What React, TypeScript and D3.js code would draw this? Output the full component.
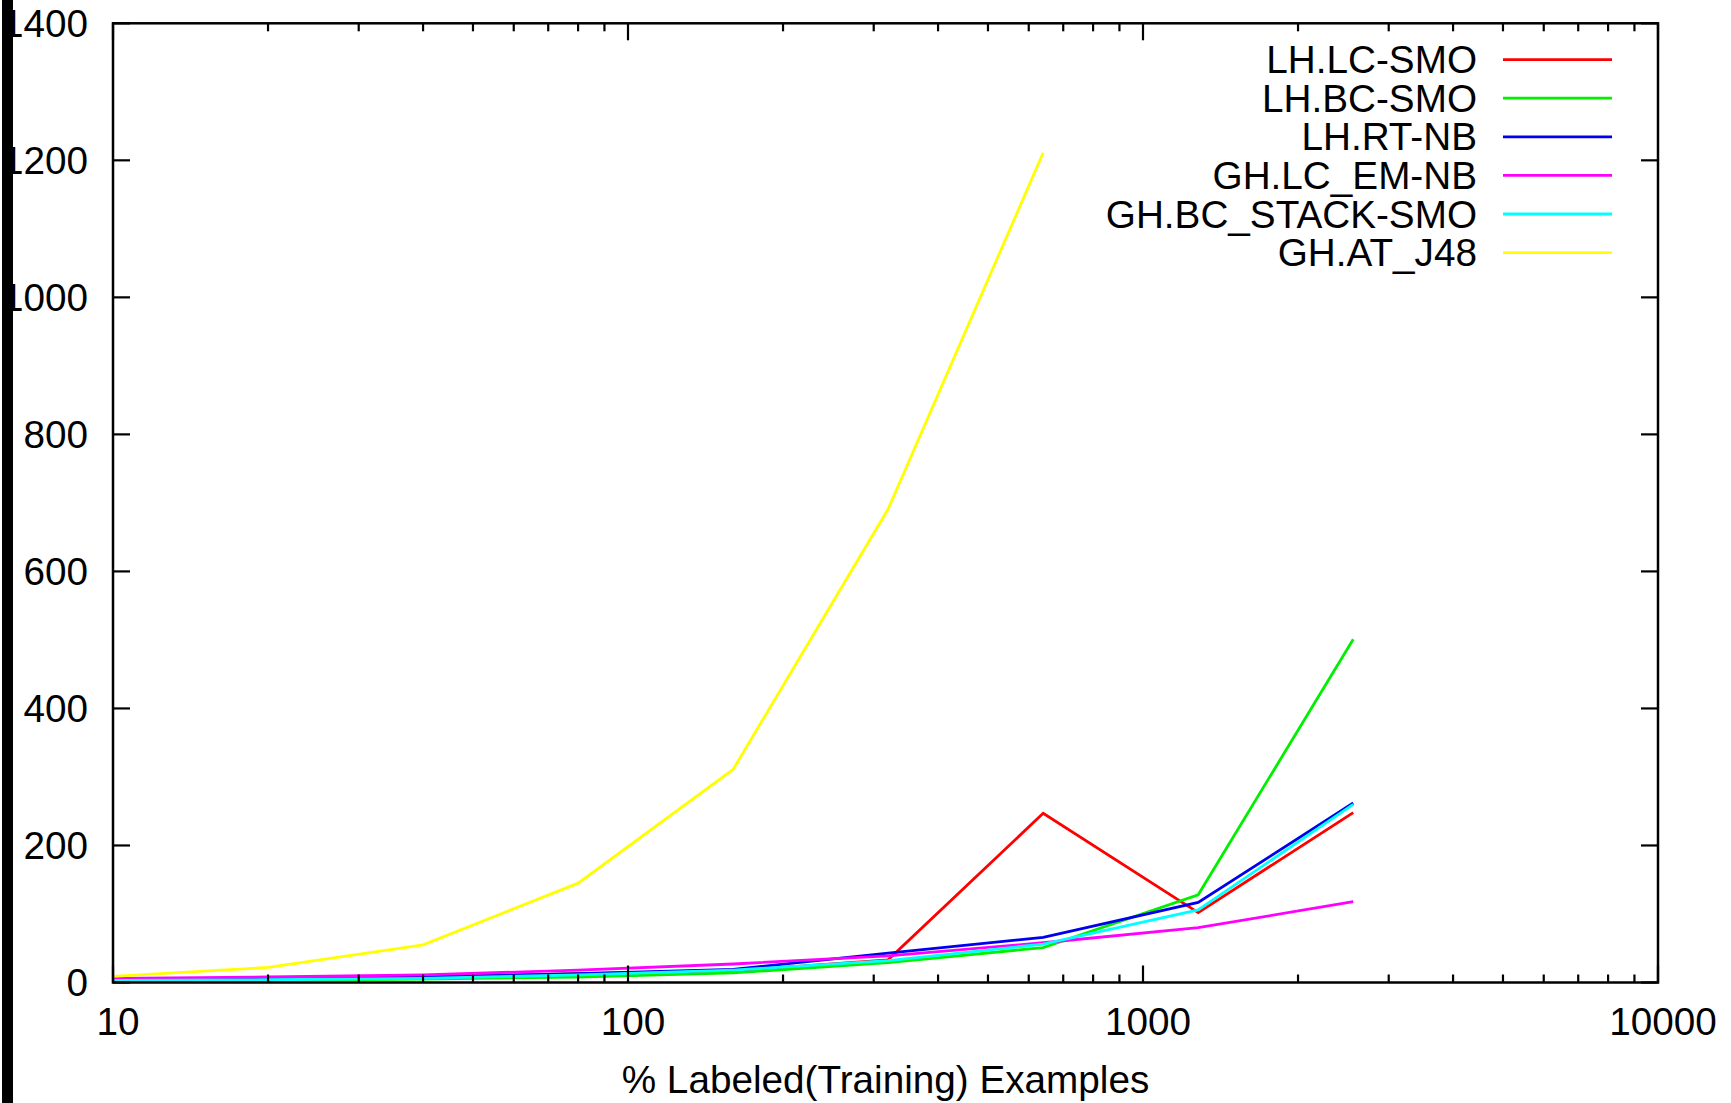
import React from "react";
import * as d3 from "d3";

// Training-set sizes (% labeled examples), doubling each step
const sizes = [10, 20, 40, 80, 160, 320, 640, 1280, 2560];

const seriesNames = [
  "LH.LC-SMO",
  "LH.BC-SMO",
  "LH.RT-NB",
  "GH.LC_EM-NB",
  "GH.BC_STACK-SMO",
  "GH.AT_J48",
];

const seriesColors = ["#ff0000", "#00f000", "#0000ee", "#ff00ff", "#00ffff", "#ffff00"];

const lhLcSmo = [3, 4, 8, 13, 17, 33, 247, 102, 248];
const lhBcSmo = [2, 3, 5, 8, 14, 29, 51, 128, 501];
const lhRtNb = [3, 5, 8, 13, 19, 43, 66, 117, 262];
const ghLcEmNb = [6, 8, 11, 18, 27, 39, 58, 80, 118];
const ghBcStackSmo = [3, 4, 6, 11, 18, 32, 56, 106, 260];
const ghAtJ48 = [9, 22, 55, 145, 311, 691, 1211];

const seriesValues = [lhLcSmo, lhBcSmo, lhRtNb, ghLcEmNb, ghBcStackSmo, ghAtJ48];

const xTickValues = [10, 100, 1000, 10000];
const yTickValues = [0, 200, 400, 600, 800, 1000, 1200, 1400];

const xTitle = "% Labeled(Training) Examples";

const W = 1731;
const H = 1103;
const FONT = "'Liberation Sans', Arial, Helvetica, sans-serif";
const FS = 38.7;

export default function App() {
  const left = 113;
  const right = 1658;
  const top = 23.3;
  const bottom = 982.5;

  const x = d3.scaleLog().domain([10, 10000]).range([left, right]);
  const y = d3.scaleLinear().domain([0, 1400]).range([bottom, top]);

  const line = d3
    .line<[number, number]>()
    .x((d) => x(d[0]))
    .y((d) => y(d[1]));

  // minor ticks 2..9 within each decade
  const minorTicks: number[] = [];
  for (let dec = 10; dec < 10000; dec *= 10) {
    for (let m = 2; m <= 9; m++) minorTicks.push(dec * m);
  }

  const majorLen = 17;
  const minorLen = 8;

  const legendRight = 1477;
  const legendLineX1 = 1503;
  const legendLineX2 = 1612;
  const legendY0 = 59.6;
  const legendStep = 38.6;

  return (
    <svg
      width={W}
      height={H}
      style={{ position: "absolute", left: 0, top: 0, background: "#fff" }}
      fontFamily={FONT}
    >
      <rect x={0} y={0} width={W} height={H} fill="#fff" />

      {/* y tick labels */}
      {yTickValues.map((v) => (
        <text
          key={`yl${v}`}
          x={88}
          y={y(v)}
          dy="0.35em"
          textAnchor="end"
          fontSize={FS}
          fill="#000"
        >
          {v}
        </text>
      ))}

      {/* x tick labels */}
      {xTickValues.map((v) => (
        <text
          key={`xl${v}`}
          x={x(v) + 5}
          y={1035}
          textAnchor="middle"
          fontSize={FS}
          fill="#000"
        >
          {v}
        </text>
      ))}

      <text x={(left + right) / 2} y={1093} textAnchor="middle" fontSize={FS} fill="#000">
        {xTitle}
      </text>

      {/* data lines */}
      {seriesValues.map((vals, i) => (
        <path
          key={`s${i}`}
          d={line(vals.map((v, j) => [sizes[j], v] as [number, number])) || ""}
          fill="none"
          stroke={seriesColors[i]}
          strokeWidth={2.8}
          strokeLinejoin="miter"
        />
      ))}

      {/* ticks */}
      <g stroke="#000" strokeWidth={2.2}>
        {yTickValues.map((v) => (
          <g key={`yt${v}`}>
            <line x1={left} x2={left + majorLen} y1={y(v)} y2={y(v)} />
            <line x1={right} x2={right - majorLen} y1={y(v)} y2={y(v)} />
          </g>
        ))}
        {xTickValues.map((v) => (
          <g key={`xt${v}`}>
            <line x1={x(v)} x2={x(v)} y1={bottom} y2={bottom - majorLen} />
            <line x1={x(v)} x2={x(v)} y1={top} y2={top + majorLen} />
          </g>
        ))}
        {minorTicks.map((v) => (
          <g key={`xm${v}`}>
            <line x1={x(v)} x2={x(v)} y1={bottom} y2={bottom - minorLen} />
            <line x1={x(v)} x2={x(v)} y1={top} y2={top + minorLen} />
          </g>
        ))}
      </g>

      {/* frame */}
      <rect
        x={left}
        y={top}
        width={right - left}
        height={bottom - top}
        fill="none"
        stroke="#000"
        strokeWidth={2.5}
      />

      {/* legend */}
      {seriesNames.map((name, i) => {
        const ly = legendY0 + i * legendStep;
        return (
          <g key={`lg${i}`}>
            <text x={legendRight} y={ly} dy="0.35em" textAnchor="end" fontSize={FS} fill="#000">
              {name}
            </text>
            <line
              x1={legendLineX1}
              x2={legendLineX2}
              y1={ly}
              y2={ly}
              stroke={seriesColors[i]}
              strokeWidth={2.8}
            />
          </g>
        );
      })}

      {/* dark band along the left edge */}
      <rect x={2} y={0} width={11} height={H} fill="#000" />
    </svg>
  );
}
